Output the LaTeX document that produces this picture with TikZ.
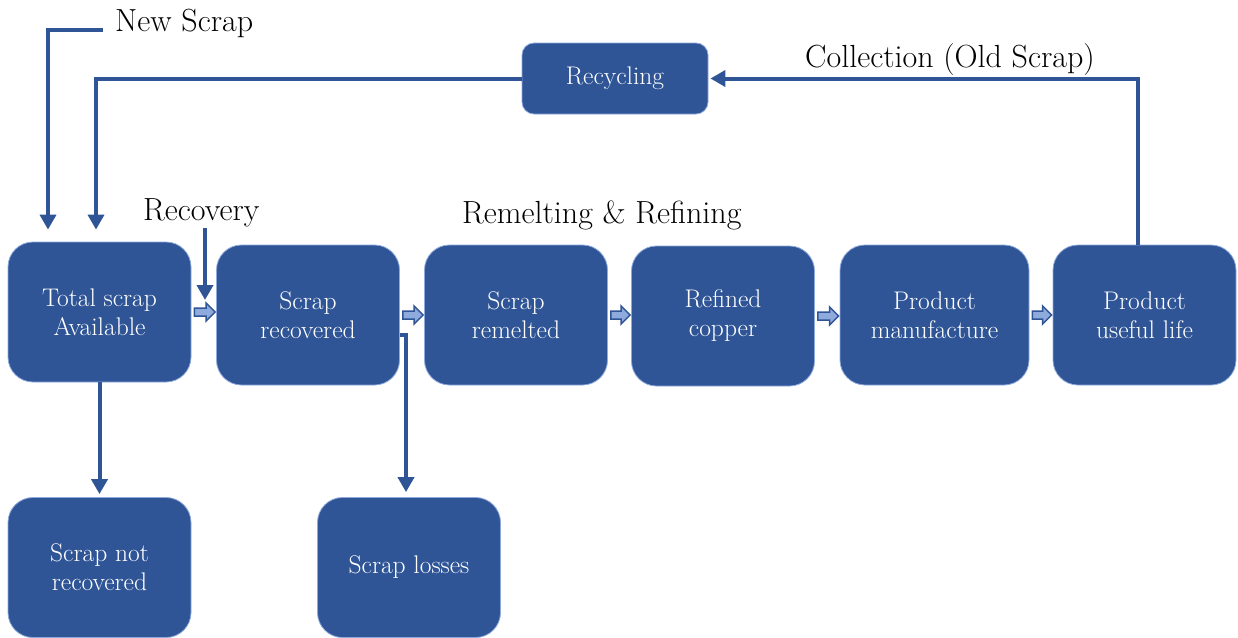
\documentclass[tikz,border=0pt]{standalone}
\usepackage{fontspec}
\usetikzlibrary{arrows.meta,calc}
\definecolor{boxblue}{HTML}{2F5597}
\definecolor{edgeblue}{HTML}{8EA9DB}
\definecolor{lineblue}{HTML}{2F5597}
\definecolor{arrfill}{HTML}{8FAADC}
\tikzset{
  box/.style={rectangle, rounded corners=25pt, fill=boxblue, draw=edgeblue, line width=0.8pt,
    text=white, align=center, inner sep=0pt, minimum width=183pt, minimum height=140pt,
    font=\fontsize{25.5}{29}\selectfont},
  smallbox/.style={box, rounded corners=12pt, minimum width=186pt, minimum height=71pt},
  flow/.style={draw=lineblue, line width=4pt, -{Triangle[width=16pt,length=15pt]}},
  lbl/.style={anchor=base west, inner sep=0pt, font=\fontsize{32}{36}\selectfont},
  blockarr/.style={fill=arrfill, draw=lineblue, line width=1.5pt, line join=miter}
}
\newcommand{\blockarrow}[2]{%
  \path[blockarr] let \p1=(#1.east), \p2=(#2.west) in
    (\x1+3pt,\y1+4pt) -- (\x2-10pt,\y1+4pt) -- (\x2-10pt,\y1+9pt) -- (\x2-1pt,\y1)
    -- (\x2-10pt,\y1-9pt) -- (\x2-10pt,\y1-4pt) -- (\x1+3pt,\y1-4pt) -- cycle;}
\begin{document}
\begin{tikzpicture}[x=1pt,y=-1pt]
\useasboundingbox (0,0) rectangle (1238,637);
% boxes
\node[box] (tot)  at (99.5,312)  {Total scrap\\Available};
\node[box] (sr)   at (308,315)   {Scrap\\recovered};
\node[box] (rem)  at (516,315)   {Scrap\\remelted};
\node[box] (ref)  at (723,316)   {Refined\\copper};
\node[box, minimum width=189pt] (man) at (934.5,315) {Product\\manufacture};
\node[box] (life) at (1144.5,315) {Product\\useful life};
\node[box] (nr)   at (99.5,567.5) {Scrap not\\recovered};
\node[box] (loss) at (409,567.5) {Scrap losses};
\node[smallbox] (rec) at (615,78.5) {Recycling};
% labels
\node[lbl] (lns)  at (115,31)  {New Scrap};
\node[lbl] (lrcv) at (143,220) {Recovery};
\node[lbl] (lrr)  at (462,223) {Remelting \& Refining};
\node[lbl] (lcol) at (805,67)  {Collection (Old Scrap)};
% free ends
\coordinate (ns) at (103,30);
\coordinate (rcv) at (205,228);
% connectors
\draw[flow] (ns) -| ([xshift=-51.5pt,yshift=12pt]tot.north);
\draw[flow] (rec.west) -| ([xshift=-3.5pt,yshift=12pt]tot.north);
\draw[flow, shorten >=2pt] ([xshift=-6.5pt]life.north) |- (rec.east);
\draw[flow] (rcv) -- ([yshift=15pt]rcv |- sr.west);
\draw[flow, shorten >=5pt] ([yshift=-20pt]sr.east) -| ([xshift=-3pt]loss.north);
\draw[flow, shorten >=3pt] (tot.south) -- (nr.north);
% block arrows
\blockarrow{tot}{sr}
\blockarrow{sr}{rem}
\blockarrow{rem}{ref}
\blockarrow{ref}{man}
\blockarrow{man}{life}
\end{tikzpicture}
\end{document}
